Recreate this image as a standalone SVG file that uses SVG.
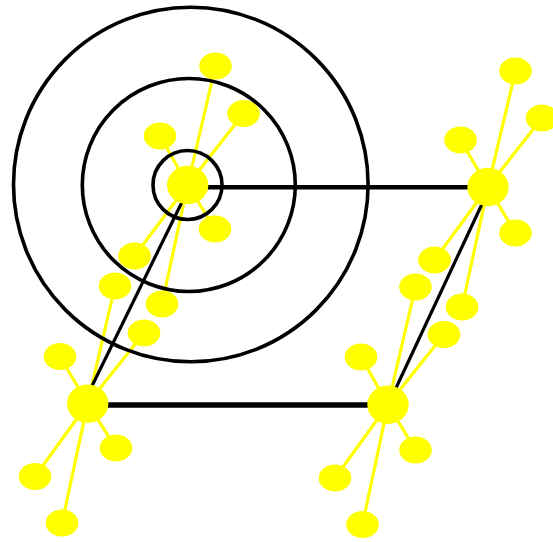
<svg xmlns="http://www.w3.org/2000/svg" width="553" height="542" viewBox="0 0 553 542">
<style>
.spoke{stroke:#FFFF00;stroke-width:3.2;fill:none}
.sat{fill:#FFFF00;stroke:none}
.hub{fill:#FFFF00;stroke:none}
.link{stroke:#000;fill:none;stroke-linecap:butt}
.ring{stroke:#000;stroke-width:3.6;fill:none}
</style>
<rect width="553" height="542" fill="#fff"/>
<g id="spokes">
<line class="spoke" x1="187.7" y1="185" x2="215.5" y2="66"/>
<line class="spoke" x1="187.7" y1="185" x2="243.5" y2="113.5"/>
<line class="spoke" x1="187.7" y1="185" x2="160" y2="136"/>
<line class="spoke" x1="187.7" y1="185" x2="215" y2="229"/>
<line class="spoke" x1="187.7" y1="185" x2="134.5" y2="256"/>
<line class="spoke" x1="187.7" y1="185" x2="162" y2="304"/>
<line class="spoke" x1="488" y1="187" x2="515.5" y2="71"/>
<line class="spoke" x1="488" y1="187" x2="542" y2="118"/>
<line class="spoke" x1="488" y1="187" x2="460.5" y2="140"/>
<line class="spoke" x1="488" y1="187" x2="515.5" y2="233"/>
<line class="spoke" x1="488" y1="187" x2="434.5" y2="260"/>
<line class="spoke" x1="488" y1="187" x2="462" y2="307"/>
<line class="spoke" x1="87.7" y1="403.7" x2="115" y2="286"/>
<line class="spoke" x1="87.7" y1="403.7" x2="144" y2="333"/>
<line class="spoke" x1="87.7" y1="403.7" x2="60" y2="356.5"/>
<line class="spoke" x1="87.7" y1="403.7" x2="116" y2="448"/>
<line class="spoke" x1="87.7" y1="403.7" x2="35" y2="476.5"/>
<line class="spoke" x1="87.7" y1="403.7" x2="62" y2="523"/>
<line class="spoke" x1="388" y1="404.7" x2="415.5" y2="287"/>
<line class="spoke" x1="388" y1="404.7" x2="444" y2="334.5"/>
<line class="spoke" x1="388" y1="404.7" x2="361" y2="357"/>
<line class="spoke" x1="388" y1="404.7" x2="415.5" y2="450"/>
<line class="spoke" x1="388" y1="404.7" x2="335" y2="478"/>
<line class="spoke" x1="388" y1="404.7" x2="362.5" y2="524.5"/>
</g>
<g id="satellites">
<g id="a1"><ellipse class="sat" cx="215.5" cy="66" rx="16.3" ry="13.5"/></g>
<g id="a2"><ellipse class="sat" cx="243.5" cy="113.5" rx="16.3" ry="13.5"/></g>
<g id="a3"><ellipse class="sat" cx="160" cy="136" rx="16.3" ry="13.5"/></g>
<g id="a4"><ellipse class="sat" cx="215" cy="229" rx="16.3" ry="13.5"/></g>
<g id="a5"><ellipse class="sat" cx="134.5" cy="256" rx="16.3" ry="13.5"/></g>
<g id="a6"><ellipse class="sat" cx="162" cy="304" rx="16.3" ry="13.5"/></g>
<g id="b1"><ellipse class="sat" cx="515.5" cy="71" rx="16.3" ry="13.5"/></g>
<g id="b2"><ellipse class="sat" cx="542" cy="118" rx="16.3" ry="13.5"/></g>
<g id="b3"><ellipse class="sat" cx="460.5" cy="140" rx="16.3" ry="13.5"/></g>
<g id="b4"><ellipse class="sat" cx="515.5" cy="233" rx="16.3" ry="13.5"/></g>
<g id="b5"><ellipse class="sat" cx="434.5" cy="260" rx="16.3" ry="13.5"/></g>
<g id="b6"><ellipse class="sat" cx="462" cy="307" rx="16.3" ry="13.5"/></g>
<g id="c1"><ellipse class="sat" cx="115" cy="286" rx="16.3" ry="13.5"/></g>
<g id="c2"><ellipse class="sat" cx="144" cy="333" rx="16.3" ry="13.5"/></g>
<g id="c3"><ellipse class="sat" cx="60" cy="356.5" rx="16.3" ry="13.5"/></g>
<g id="c4"><ellipse class="sat" cx="116" cy="448" rx="16.3" ry="13.5"/></g>
<g id="c5"><ellipse class="sat" cx="35" cy="476.5" rx="16.3" ry="13.5"/></g>
<g id="c6"><ellipse class="sat" cx="62" cy="523" rx="16.3" ry="13.5"/></g>
<g id="d1"><ellipse class="sat" cx="415.5" cy="287" rx="16.3" ry="13.5"/></g>
<g id="d2"><ellipse class="sat" cx="444" cy="334.5" rx="16.3" ry="13.5"/></g>
<g id="d3"><ellipse class="sat" cx="361" cy="357" rx="16.3" ry="13.5"/></g>
<g id="d4"><ellipse class="sat" cx="415.5" cy="450" rx="16.3" ry="13.5"/></g>
<g id="d5"><ellipse class="sat" cx="335" cy="478" rx="16.3" ry="13.5"/></g>
<g id="d6"><ellipse class="sat" cx="362.5" cy="524.5" rx="16.3" ry="13.5"/></g>
</g>
<g id="connectors">
<line class="link" x1="190" y1="187.3" x2="485" y2="187.3" stroke-width="4.5"/>
<line class="link" x1="90" y1="405" x2="385" y2="405" stroke-width="5.5"/>
<line class="link" x1="183" y1="200" x2="92" y2="386" stroke-width="3.2"/>
<line class="link" x1="482.5" y1="203" x2="396" y2="388" stroke-width="3.2"/>
</g>
<g id="rings">
<circle class="ring" cx="187.5" cy="185" r="34.5"/>
<circle class="ring" cx="188.8" cy="185" r="106.5"/>
<circle class="ring" cx="190.8" cy="184.5" r="177.3"/>
</g>
<g id="hubA"><ellipse class="hub" cx="187.7" cy="185" rx="20.7" ry="19.2"/></g>
<g id="hubB"><ellipse class="hub" cx="488" cy="187" rx="20.7" ry="19.2"/></g>
<g id="hubC"><ellipse class="hub" cx="87.7" cy="403.7" rx="20.7" ry="19.2"/></g>
<g id="hubD"><ellipse class="hub" cx="388" cy="404.7" rx="20.7" ry="19.2"/></g>
</svg>
